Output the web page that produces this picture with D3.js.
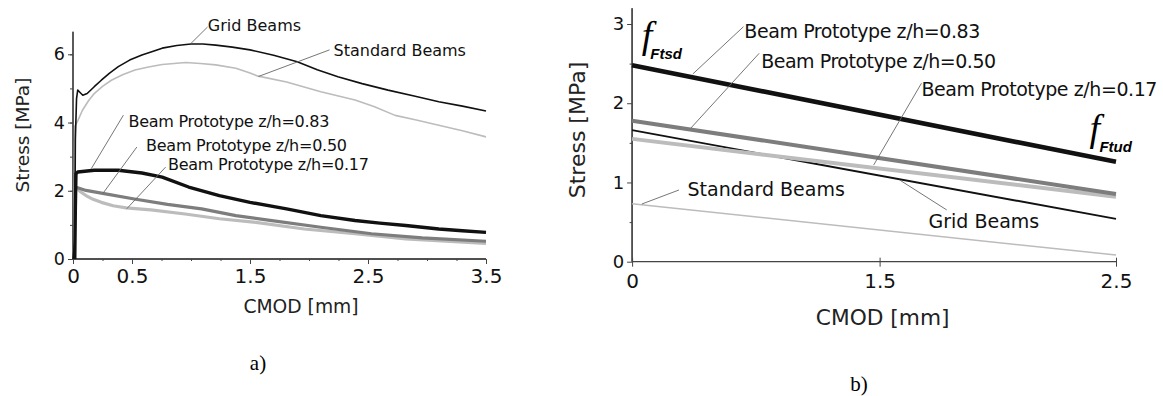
<!DOCTYPE html>
<html><head><meta charset="utf-8">
<script src="https://cdn.jsdelivr.net/npm/d3@7"></script>
<style>body{margin:0;background:#fff}svg{display:block}</style>
</head><body>
<svg id="c" width="1163" height="396"></svg>
<script>
// ---------- Panel a data (CMOD [mm], Stress [MPa]) ----------
const gridBeamsA = [[0,0],[0.015,0.5],[0.02,3.5],[0.03,4.7],[0.04,4.95],[0.06,4.88],[0.083,4.8],[0.12,4.85],[0.18,5.05],[0.24,5.24],[0.31,5.45],[0.384,5.64],[0.48,5.83],[0.584,5.98],[0.68,6.09],[0.756,6.18],[0.88,6.26],[1.0,6.30],[1.1,6.30],[1.21,6.27],[1.35,6.21],[1.5,6.13],[1.7,5.97],[1.9,5.78],[2.07,5.55],[2.245,5.34],[2.45,5.14],[2.67,4.95],[2.9,4.77],[3.1,4.61],[3.3,4.48],[3.5,4.34]];
const standardBeamsA = [[0.005,0],[0.012,2.5],[0.015,3.89],[0.04,4.05],[0.08,4.36],[0.13,4.63],[0.18,4.85],[0.25,5.06],[0.325,5.24],[0.42,5.4],[0.525,5.54],[0.64,5.63],[0.756,5.70],[0.956,5.76],[1.08,5.73],[1.21,5.69],[1.38,5.59],[1.5,5.45],[1.57,5.36],[1.81,5.19],[2.1,4.90],[2.39,4.66],[2.55,4.47],[2.73,4.21],[2.9,4.08],[3.1,3.92],[3.3,3.76],[3.5,3.58]];
const proto083A = [[0.015,0],[0.02,1.5],[0.025,2.5],[0.04,2.55],[0.18,2.6],[0.384,2.6],[0.584,2.52],[0.756,2.40],[0.98,2.11],[1.24,1.86],[1.5,1.66],[1.81,1.47],[2.1,1.27],[2.39,1.13],[2.6,1.05],[2.82,0.98],[3.1,0.88],[3.3,0.83],[3.5,0.78]];
const proto050A = [[0.02,2.11],[0.11,2.01],[0.24,1.93],[0.52,1.76],[0.80,1.60],[1.09,1.47],[1.38,1.27],[1.67,1.13],[2.1,0.93],[2.53,0.74],[2.96,0.62],[3.5,0.52]];
const proto017A = [[0.02,2.11],[0.06,1.98],[0.11,1.86],[0.17,1.75],[0.24,1.66],[0.34,1.56],[0.45,1.50],[0.66,1.44],[0.95,1.32],[1.24,1.18],[1.53,1.08],[1.96,0.88],[2.39,0.74],[2.82,0.59],[3.5,0.46]];
const xTicksA = [0, 0.5, 1.5, 2.5, 3.5];
const yTicksA = [0, 2, 4, 6];

// ---------- Panel b data: linear laws (CMOD at 0 and 2.5 mm) ----------
const cmodB = [0, 2.5];
const proto083B = [2.48, 1.26];
const proto050B = [1.78, 0.855];
const proto017B = [1.55, 0.82];
const gridBeamsB = [1.66, 0.54];
const standardBeamsB = [0.73, 0.084];
const xTicksB = [0, 1.5, 2.5];
const yTicksB = [0, 1, 2, 3];

const labelsProto = ["Beam Prototype z/h=0.83","Beam Prototype z/h=0.50","Beam Prototype z/h=0.17"];

const svg = d3.select("#c");
const FONT = "DejaVu Sans, Verdana, sans-serif";
const SERIF = "Liberation Serif, Times New Roman, serif";
const BLACK = "#111", DGRAY = "#7d7d7d", LGRAY = "#bcbcbc", AXIS = "#444", LEAD = "#666";

// ================= Panel a =================
const xa = d3.scaleLinear().domain([0,3.5]).range([73,486]);
const ya = d3.scaleLinear().domain([0,6]).range([259,54.3]);
const ga = svg.append("g");
const lineA = d3.line().x(d=>xa(d[0])).y(d=>ya(d[1]));

const axA = ga.append("g").attr("transform",`translate(0,${ya(0)})`)
  .call(d3.axisBottom(xa).tickValues(d3.range(0,3.51,0.25)).tickSize(2).tickFormat(""));
axA.append("g").call(d3.axisBottom(xa).tickValues(xTicksA).tickSize(5).tickFormat(d3.format("")));
const ayA = ga.append("g").attr("transform",`translate(${xa(0)},0)`)
  .call(d3.axisLeft(ya).tickValues(d3.range(0,6.6,1)).tickSize(3).tickFormat(""));
ayA.append("g").call(d3.axisLeft(ya).tickValues(yTicksA).tickSize(5).tickFormat(d3.format("")));
[axA, ayA].forEach(a=>{
  a.selectAll("path.domain").attr("stroke",AXIS).attr("stroke-width",1.3);
  a.selectAll("line").attr("stroke",AXIS);
  a.selectAll("text").attr("font-family",FONT).attr("fill","#111");
});
axA.selectAll("text").attr("font-size",20).attr("dy","0.78em");
ayA.selectAll("text").attr("font-size",17.5);
axA.selectAll("path.domain").attr("d",`M${xa(0)},0H${xa(3.5)}`);
ayA.selectAll("path.domain").attr("d",`M0,${ya(0)}V${ya(6.66)}`);

ga.append("text").attr("x",301).attr("y",313)
  .attr("text-anchor","middle").attr("font-family",FONT).attr("font-size",18.7).attr("fill","#222").text("CMOD [mm]");
ga.append("text").attr("transform",`translate(29,135) rotate(-90)`)
  .attr("text-anchor","middle").attr("font-family",FONT).attr("font-size",18.5).attr("fill","#222").text("Stress [MPa]");

const seriesA = [
  {d:standardBeamsA, c:LGRAY, w:1.6},
  {d:gridBeamsA, c:BLACK, w:1.6},
  {d:proto017A, c:LGRAY, w:3.2},
  {d:proto050A, c:DGRAY, w:3.2},
  {d:proto083A, c:BLACK, w:3.4}
];
seriesA.forEach(s=>ga.append("path").attr("d",lineA(s.d)).attr("fill","none")
  .attr("stroke",s.c).attr("stroke-width",s.w).attr("stroke-linejoin","round"));

// annotations panel a: [text, textX, textY, leadFrom, leadTo, textLength]
const annA = [
  ["Grid Beams", 1.143, 6.86, [1.0,6.32],[1.14,6.80], 0],
  ["Standard Beams", 2.208, 6.106, [1.572,5.35],[2.174,6.13], 0],
  [labelsProto[0], 0.470, 4.047, [0.155,2.647],[0.427,4.215], 201],
  [labelsProto[1], 0.619, 3.333, [0.255,1.929],[0.541,3.282], 201],
  [labelsProto[2], 0.805, 2.774, [0.455,1.471],[0.785,2.694], 201]
];
annA.forEach(a=>{
  ga.append("line").attr("x1",xa(a[3][0])).attr("y1",ya(a[3][1])).attr("x2",xa(a[4][0])).attr("y2",ya(a[4][1]))
    .attr("stroke",LEAD).attr("stroke-width",0.9);
  const t = ga.append("text").attr("x",xa(a[1])).attr("y",ya(a[2])+5.8).attr("font-family",FONT)
    .attr("font-size",16).attr("fill","#111").text(a[0]);
  if (a[5]) t.attr("textLength",a[5]).attr("lengthAdjust","spacing");
});
ga.append("text").attr("x",258).attr("y",370).attr("text-anchor","middle")
  .attr("font-family",SERIF).attr("font-size",21).attr("fill","#000").text("a)");

// ================= Panel b =================
const xb = d3.scaleLinear().domain([0,1.5,2.5]).range([632.1,879.6,1116]);
const yb = d3.scaleLinear().domain([0,3]).range([261.7,24]);
const gb = svg.append("g");

const axB = gb.append("g").attr("transform",`translate(0,${yb(0)})`)
  .call(d3.axisBottom(xb).tickValues(xTicksB).tickSize(6).tickFormat(d3.format("")));
const ayB = gb.append("g").attr("transform",`translate(${xb(0)},0)`)
  .call(d3.axisLeft(yb).tickValues(d3.range(0.5,3.2,1)).tickSize(2.5).tickFormat(""));
ayB.append("g").call(d3.axisLeft(yb).tickValues(yTicksB).tickSize(5).tickFormat(d3.format("")));
[axB, ayB].forEach(a=>{
  a.selectAll("path.domain").attr("stroke",AXIS).attr("stroke-width",1.3);
  a.selectAll("line").attr("stroke",AXIS);
  a.selectAll("text").attr("font-family",FONT).attr("fill","#111");
});
axB.selectAll("text").attr("font-size",20).attr("dy","0.85em");
ayB.selectAll("text").attr("font-size",18);
axB.selectAll("path.domain").attr("d",`M${xb(0)},0H${xb(2.5)}`);
axB.selectAll(".tick line").attr("y1",-4).attr("y2",5);
ayB.selectAll("path.domain").attr("d",`M0,${yb(0)}V${yb(3.2)}`);

gb.append("text").attr("x",882.7).attr("y",325).attr("text-anchor","middle")
  .attr("font-family",FONT).attr("font-size",21.7).attr("fill","#222").text("CMOD [mm]");
gb.append("text").attr("transform",`translate(585,130) rotate(-90)`)
  .attr("text-anchor","middle").attr("font-family",FONT).attr("font-size",22).attr("fill","#222").text("Stress [MPa]");

const seriesB = [
  {v:standardBeamsB, c:LGRAY, w:1.5},
  {v:gridBeamsB, c:BLACK, w:1.9},
  {v:proto017B, c:LGRAY, w:4},
  {v:proto050B, c:DGRAY, w:4},
  {v:proto083B, c:BLACK, w:4.6}
];
const lineB = d3.line().x(d=>xb(d[0])).y(d=>yb(d[1]));
seriesB.forEach(s=>gb.append("path").attr("d",lineB(cmodB.map((x,i)=>[x,s.v[i]])))
  .attr("fill","none").attr("stroke",s.c).attr("stroke-width",s.w));

const annB = [
  [labelsProto[0], 0.680, 2.903, [0.368,2.369],[0.675,2.966], 236],
  [labelsProto[1], 0.782, 2.533, [0.355,1.684],[0.770,2.630], 235],
  [labelsProto[2], 1.677, 2.176, [1.464,1.220],[1.677,2.252], 236],
  ["Standard Beams", 0.336, 0.918, [0.059,0.728],[0.284,0.905], 0],
  ["Grid Beams", 1.707, 0.505, [1.585,1.031],[1.784,0.653], 0]
];
annB.forEach(a=>{
  gb.append("line").attr("x1",xb(a[3][0])).attr("y1",yb(a[3][1])).attr("x2",xb(a[4][0])).attr("y2",yb(a[4][1]))
    .attr("stroke",LEAD).attr("stroke-width",0.9);
  const t = gb.append("text").attr("x",xb(a[1])).attr("y",yb(a[2])+6.8).attr("font-family",FONT)
    .attr("font-size",19).attr("fill","#111").text(a[0]);
  if (a[5]) t.attr("textLength",a[5]).attr("lengthAdjust","spacing");
});

// f_Ftsd and f_Ftud symbols
const symB = [["Ftsd", 0.09, 2.80, 0.11, 2.63],["Ftud", 2.41, 1.624, 2.43, 1.448]];
symB.forEach(s=>{
  gb.append("text").attr("x",xb(s[1])).attr("y",yb(s[2])+8).attr("text-anchor","middle")
    .attr("font-family",SERIF).attr("font-style","italic")
    .attr("font-size",38).attr("fill","#000").text("f");
  gb.append("text").attr("x",xb(s[3])).attr("y",yb(s[4])+5.5).attr("font-family","Liberation Sans, Arial, sans-serif")
    .attr("font-style","italic").attr("font-weight","bold").attr("font-size",15).attr("fill","#000").text(s[0]);
});
gb.append("text").attr("x",859).attr("y",391).attr("text-anchor","middle")
  .attr("font-family",SERIF).attr("font-size",21).attr("fill","#000").text("b)");
</script>
</body></html>
